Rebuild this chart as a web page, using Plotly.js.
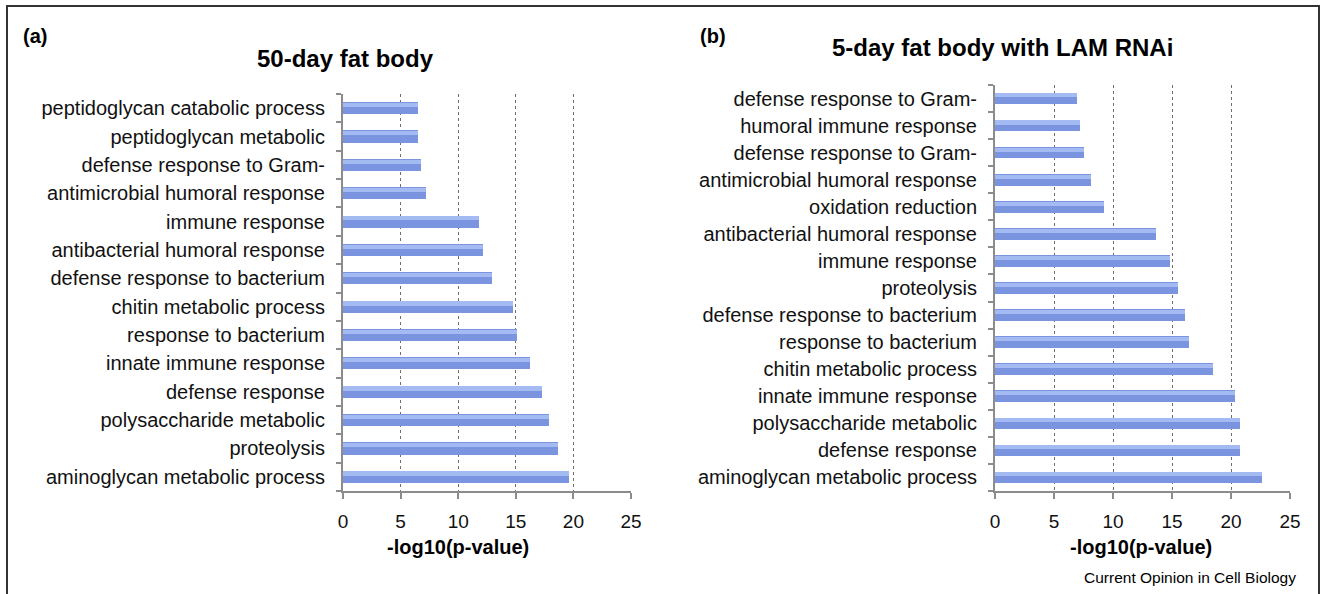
<!DOCTYPE html>
<html>
<head>
<meta charset="utf-8">
<script src="https://cdn.plot.ly/plotly-3.0.1.min.js"></script>
<style>html,body{margin:0;padding:0;background:#fff;}#chart{width:1321px;height:594px;}</style>
</head>
<body>
<div id="chart"></div>
<script>
// ---- data ----
const labelsA = ['peptidoglycan catabolic process', 'peptidoglycan metabolic', 'defense response to Gram-',
  'antimicrobial humoral response', 'immune response', 'antibacterial humoral response',
  'defense response to bacterium', 'chitin metabolic process', 'response to bacterium',
  'innate immune response', 'defense response', 'polysaccharide metabolic', 'proteolysis',
  'aminoglycan metabolic process'];
const valuesA = [6.5, 6.5, 6.8, 7.2, 11.8, 12.15, 12.9, 14.75, 15.1, 16.25, 17.3, 17.9, 18.7, 19.65];

const labelsB = ['defense response to Gram-', 'humoral immune response', 'defense response to Gram-',
  'antimicrobial humoral response', 'oxidation reduction', 'antibacterial humoral response',
  'immune response', 'proteolysis', 'defense response to bacterium', 'response to bacterium',
  'chitin metabolic process', 'innate immune response', 'polysaccharide metabolic',
  'defense response', 'aminoglycan metabolic process'];
const valuesB = [6.95, 7.2, 7.5, 8.15, 9.25, 13.65, 14.85, 15.5, 16.1, 16.4, 18.45, 20.3, 20.8, 20.8, 22.65];

const xTicks = [0, 5, 10, 15, 20, 25];
const titleA = '50-day fat body';
const titleB = '5-day fat body with LAM RNAi';
const xTitle = '-log10(p-value)';
const panelA = '(a)';
const panelB = '(b)';
const credit = 'Current Opinion in Cell Biology';

// ---- helpers ----
const W = 1321, H = 594;
const px = v => v / W;
const py = v => 1 - v / H;
const FONT = 'Liberation Sans, Arial, Helvetica, sans-serif';
const idx = arr => arr.map((_, i) => i);

function barTraces(labels, values, xa, ya) {
  const ys = idx(labels);
  return [
    { type: 'bar', orientation: 'h', x: values, y: ys, xaxis: xa, yaxis: ya,
      width: 0.43, offset: -0.215,
      marker: { color: '#7b94df', line: { width: 0 } }, hoverinfo: 'x', showlegend: false },
    { type: 'bar', orientation: 'h', x: values, y: ys, xaxis: xa, yaxis: ya,
      width: 0.15, offset: -0.19,
      marker: { color: 'rgba(168,190,244,0.9)', line: { width: 0 } }, hoverinfo: 'skip', showlegend: false }
  ];
}

const data = [
  ...barTraces(labelsA, valuesA, 'x', 'y'),
  ...barTraces(labelsB, valuesB, 'x2', 'y2')
];

function xAxis(domain, anchor) {
  return {
    domain: domain, anchor: anchor, range: [0, 25], tickvals: xTicks, ticktext: xTicks.map(String),
    showgrid: true, gridcolor: '#6e6e6e', griddash: 'dot', gridwidth: 1,
    zeroline: false, showline: true, linecolor: '#8c8c8c', linewidth: 2,
    ticks: 'outside', ticklen: 6, tickwidth: 2, tickcolor: '#8c8c8c',
    ticklabelstandoff: 6,
    tickfont: { family: FONT, size: 19, color: '#111' }, fixedrange: true
  };
}
function yAxis(domain, anchor, labels) {
  const n = labels.length;
  return {
    domain: domain, anchor: anchor, range: [n - 0.5, -0.5],
    tickvals: idx(labels), ticktext: labels, ticks: '', showgrid: false, zeroline: false,
    showline: true, linecolor: '#8c8c8c', linewidth: 2,
    minor: { tick0: 0.5, dtick: 1, ticks: 'outside', ticklen: 5, tickwidth: 2, tickcolor: '#8c8c8c', showgrid: false },
    ticklabelstandoff: 12,
    tickfont: { family: FONT, size: 20, color: '#111' }, fixedrange: true
  };
}

const ann = (text, x, y, size, bold, xanchor) => ({
  text: bold ? '<b>' + text + '</b>' : text, xref: 'paper', yref: 'paper',
  x: px(x), y: py(y), xanchor: xanchor || 'center', yanchor: 'middle', showarrow: false,
  font: { family: FONT, size: size, color: '#000' }
});

const layout = {
  width: W, height: H, margin: { l: 0, r: 0, t: 0, b: 0 },
  paper_bgcolor: '#fff', plot_bgcolor: 'rgba(0,0,0,0)',
  barmode: 'overlay', bargap: 0, font: { family: FONT },
  xaxis: xAxis([px(343), px(631)], 'y'),
  yaxis: yAxis([py(491), py(94)], 'x', labelsA),
  xaxis2: xAxis([px(995), px(1290)], 'y2'),
  yaxis2: yAxis([py(491), py(85)], 'x2', labelsB),
  annotations: [
    ann(panelA, 21, 36, 20, true, 'left'),
    ann(panelB, 698, 36, 20, true, 'left'),
    ann(titleA, 345, 58, 24, true),
    ann(titleB, 830, 47, 24, true, 'left'),
    ann(xTitle, 458, 547, 20, true),
    ann(xTitle, 1141, 547, 20, true),
    ann(credit, 1298, 577, 15.5, false, 'right')
  ],
  shapes: [
    { type: 'rect', xref: 'paper', yref: 'paper', x0: px(7), x1: px(1319), y0: py(6), y1: -0.02,
      line: { color: '#333', width: 2 }, fillcolor: 'rgba(0,0,0,0)' }
  ]
};

Plotly.newPlot('chart', data, layout, { staticPlot: true, displayModeBar: false });
</script>
</body>
</html>
